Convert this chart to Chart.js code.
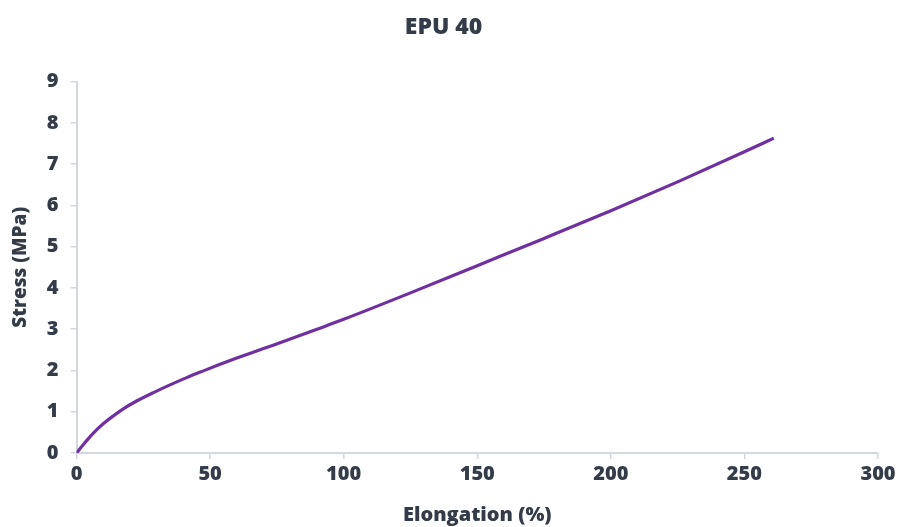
<!DOCTYPE html>
<html>
<head>
<meta charset="utf-8">
<script src="https://cdn.jsdelivr.net/npm/chart.js@4/dist/chart.umd.min.js"></script>
<style>
  html, body { margin: 0; padding: 0; background: #ffffff; }
  #wrap { width: 902px; height: 527px; }
</style>
</head>
<body>
<div id="wrap"><canvas id="epuChart" width="902" height="527"></canvas></div>
<script>
// Elongation (%) readings along the curve
var elongation = [0, 2.5, 5, 7.5, 10, 14, 17.5, 22.5, 29, 35, 41, 47.5, 53, 60, 70, 80, 90, 100, 125, 150, 175, 200, 225, 250, 261];
// Stress (MPa) at each elongation
var stress = [0, 0.2, 0.39, 0.56, 0.71, 0.91, 1.07, 1.26, 1.47, 1.65, 1.82, 1.99, 2.13, 2.3, 2.53, 2.76, 3.0, 3.24, 3.88, 4.54, 5.2, 5.87, 6.57, 7.3, 7.63];

var xTicks = [0, 50, 100, 150, 200, 250, 300];
var yTicks = [0, 1, 2, 3, 4, 5, 6, 7, 8, 9];

var textColor = "#333c48";
var axisColor = "#d3d8df";
var fontName = "'Open Sans', Inter, sans-serif";

// builds the {x, y} points the line needs
var points = elongation.map(function (e, i) {
    return { x: e, y: stress[i] };
});

new Chart(document.getElementById("epuChart"), {
    type: "line",
    data: {
        datasets: [{
            label: "EPU 40",
            data: points,
            borderColor: "#7030a0",
            borderWidth: 3.2,
            pointRadius: 0,
            cubicInterpolationMode: "monotone",
            fill: false
        }]
    },
    options: {
        responsive: false,
        animation: false,
        layout: { padding: { left: 9, right: 24, top: 0, bottom: 0 } },
        plugins: {
            legend: { display: false },
            tooltip: { enabled: false },
            title: {
                display: true,
                text: "EPU 40",
                color: textColor,
                font: { family: fontName, size: 23, weight: 800 },
                padding: { top: 14, bottom: 40 }
            }
        },
        scales: {
            x: {
                type: "linear",
                min: 0,
                max: 300,
                afterBuildTicks: function (axis) {
                    axis.ticks = xTicks.map(function (v) { return { value: v }; });
                },
                grid: { drawOnChartArea: false, color: axisColor, tickLength: 6, lineWidth: 1.5 },
                border: { color: axisColor, width: 2 },
                ticks: {
                    color: textColor,
                    font: { family: fontName, size: 20, weight: 800 },
                    padding: 3
                },
                title: {
                    display: true,
                    text: "Elongation (%)",
                    color: textColor,
                    font: { family: fontName, size: 20, weight: 800 },
                    padding: { top: 14, bottom: 0 }
                }
            },
            y: {
                type: "linear",
                min: 0,
                max: 9,
                afterBuildTicks: function (axis) {
                    axis.ticks = yTicks.map(function (v) { return { value: v }; });
                },
                grid: { drawOnChartArea: false, color: axisColor, tickLength: 6, lineWidth: 1.5 },
                border: { color: axisColor, width: 2 },
                ticks: {
                    color: textColor,
                    font: { family: fontName, size: 20, weight: 800 },
                    padding: 12
                },
                title: {
                    display: true,
                    text: "Stress (MPa)",
                    color: textColor,
                    font: { family: fontName, size: 19, weight: 800 },
                    padding: { top: 0, bottom: 3 }
                }
            }
        }
    }
});
</script>
</body>
</html>
